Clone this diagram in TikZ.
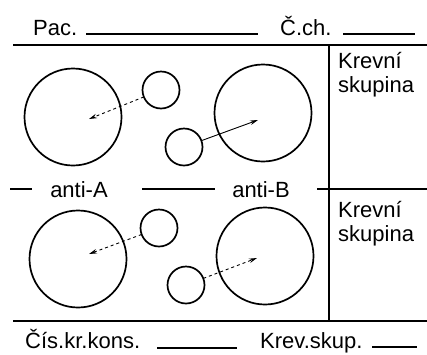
\documentclass[tikz,border=0pt]{standalone}
\usepackage{fontspec}
\setmainfont{Liberation Sans}
\usetikzlibrary{arrows.meta,positioning}

\begin{document}
\begin{tikzpicture}[x=1pt, y=-1pt,
    cell/.style={circle, draw, line width=1.7pt, inner sep=0pt, outer sep=0pt},
    bigcell/.style={cell, minimum size=97pt},
    smallcell/.style={cell, minimum size=37pt},
    rule/.style={line width=1.9pt},
    blank/.style={line width=1.2pt},
    lbl/.style={font=\fontsize{22}{24}\selectfont, inner sep=0pt},
    flow/.style={line width=0.9pt, -{Stealth[length=8pt,width=4.5pt]}}]

    \useasboundingbox (0,0) rectangle (427,354);

    %% ── header ───────────────────────────────────────
    \node[lbl, anchor=base west] (pac) at (33,35) {Pac.};
    \draw[blank] (86,34) -- (258,34);
    \node[lbl, anchor=base west] (cch) at (280,35) {Č.ch.};
    \draw[blank] (343,34) -- (415,34);

    %% ── frame ────────────────────────────────────────
    \draw[rule] (13,45) -- (427,45);
    \draw[rule] (13,321) -- (427,321);
    \draw[rule] (329,45) -- (329,321);
    \draw[rule] (10,189) -- (32,189);
    \draw[rule] (142,189) -- (215,189);
    \draw[rule] (317,189) -- (427,189);

    \node[lbl, anchor=base] (antiA) at (79,197) {anti-A};
    \node[lbl, anchor=base] (antiB) at (261,197) {anti-B};

    \node[lbl, anchor=north west, align=left] (sk1) at (338,52) {Krevní\\skupina};
    \node[lbl, anchor=north west, align=left] (sk2) at (338,201) {Krevní\\skupina};

    %% ── cells, upper half ────────────────────────────
    \node[bigcell] (b1) at (73,117) {};
    \node[bigcell] (b2) at (263,113) {};
    \node[smallcell] (s1) at (161,90) {};
    \node[smallcell] (s2) at (184,147) {};
    \coordinate (t1) at (89,119);
    \coordinate (t2) at (258,120);
    \draw[flow, dashed] (s1) -- (t1);
    \draw[flow] (s2) -- (t2);

    %% ── cells, lower half ────────────────────────────
    \node[bigcell] (b3) at (78,259) {};
    \node[bigcell] (b4) at (265,256) {};
    \node[smallcell] (s3) at (159,228) {};
    \node[smallcell] (s4) at (186,285) {};
    \coordinate (t3) at (89,254);
    \coordinate (t4) at (257,258);
    \draw[flow, dashed] (s3) -- (t3);
    \draw[flow, dashed] (s4) -- (t4);

    %% ── footer ───────────────────────────────────────
    \node[lbl, anchor=base west] (kons) at (25,348) {Čís.kr.kons.};
    \draw[blank] (157,348) -- (237,348);
    \node[lbl, anchor=base west] (skup) at (260,348) {Krev.skup.};
    \draw[blank] (372,347) -- (417,347);

\end{tikzpicture}
\end{document}
